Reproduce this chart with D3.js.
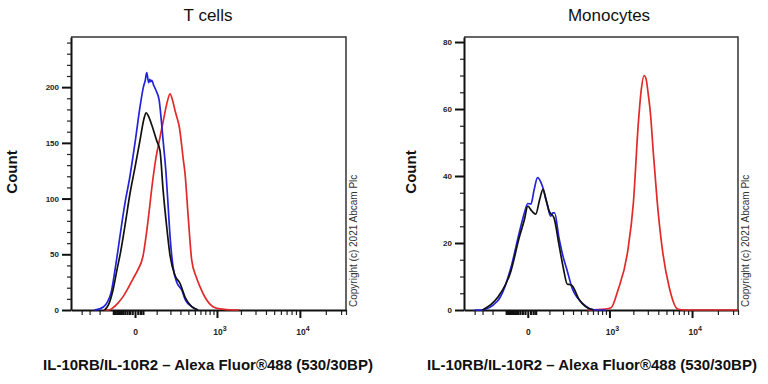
<!DOCTYPE html>
<html>
<head>
<meta charset="utf-8">
<script src="https://cdn.jsdelivr.net/npm/d3@7"></script>
<style>
body { margin: 0; background: #fff; }
text { font-family: "Liberation Sans", Arial, sans-serif; }
</style>
</head>
<body>
<svg id="chart" width="768" height="384"></svg>
<script>
// x axis (biexponential-like display, fluorescence units)
var xDomain = [-573, 34200];
var xMajorTicks = [0, 1000, 10000];
var xMajorLabels = [["0", ""], ["10", "3"], ["10", "4"]];
var xMinorTicks = [-400, -300, -200, 100, 200, 300, 400, 500, 600, 700, 800, 900,
	2000, 3000, 4000, 5000, 6000, 7000, 8000, 9000, 20000, 30000];
var xZeroTicks = [-100, -90, -80, -70, -60, -50, -40, -30, -20, -10, 10, 20, 30];

var xTitle = "IL-10RB/IL-10R2 \u2013 Alexa Fluor\u00ae488 (530/30BP)";
var copyright = "Copyright (c) 2021 Abcam  Plc";

// T cells panel
var tMajor = [0, 50, 100, 150, 200];
var tMinor = [10, 20, 30, 40, 60, 70, 80, 90, 110, 120, 130, 140, 160, 170, 180, 190, 210, 220, 230, 240];
var tBlue = [[-250, 0], [-200, 1], [-150, 5], [-110, 18], [-90, 36], [-75, 52], [-60, 70], [-40, 95],
	[-20, 118], [0, 150], [20, 185], [32, 200], [40, 206], [47, 213], [56, 204], [62, 207], [66, 205],
	[72, 206], [84, 201], [96, 197], [116, 188], [121, 182], [144, 150], [164, 123], [180, 95],
	[200, 62], [225, 38], [260, 25], [315, 18], [360, 9], [450, 3], [550, 0]];
var tBlack = [[-160, 0], [-130, 5], [-102, 18], [-79, 36], [-60, 52], [-39, 76], [-18, 105], [0, 128],
	[18, 152], [35, 172], [44, 177], [55, 174], [72, 166], [100, 152], [121, 143], [142, 108],
	[172, 72], [197, 49], [243, 31], [295, 24], [360, 11], [449, 3], [560, 0]];
var tRed = [[-160, 0], [-130, 0], [-102, 2], [-75, 6], [-48, 12], [-25, 20], [-7, 28], [10, 36],
	[30, 48], [53, 80], [77, 116], [95, 136], [121, 155], [144, 170], [170, 185], [197, 194],
	[220, 188], [243, 179], [265, 172], [288, 164], [334, 135], [355, 123], [400, 82], [449, 45],
	[520, 30], [591, 21], [700, 11], [888, 3], [1100, 1], [1600, 0], [1900, 0]];

// Monocytes panel
var mMajor = [0, 20, 40, 60, 80];
var mMinor = [5, 10, 15, 25, 30, 35, 45, 50, 55, 65, 70, 75];
var mBlue = [[-400, 0], [-319, 0], [-159, 2.7], [-73, 12.6], [-33, 23], [-12, 29], [0, 31.8], [11, 31.6],
	[24, 36], [38, 39.5], [61, 37], [85, 32], [108, 28], [122, 29], [134, 29], [166, 21.6], [200, 16],
	[240, 11.6], [290, 6.5], [352, 3.7], [450, 1.5], [554, 0.3], [700, 0], [900, 0]];
var mBlack = [[-300, 0], [-159, 3.7], [-73, 11.6], [-33, 21.6], [-12, 27], [0, 31], [15, 29.5],
	[30, 28.6], [48, 33], [64, 36], [80, 33], [98, 29.6], [130, 27.5], [166, 19.6], [200, 13],
	[240, 7.7], [265, 7.6], [292, 7.2], [373, 3.2], [470, 1], [611, 0]];
var mRed = [[500, 0], [888, 0.3], [1053, 0.7], [1278, 5.7], [1705, 17.6], [2003, 32], [2306, 56],
	[2507, 66], [2700, 70], [2856, 69], [3050, 64], [3217, 59], [3491, 47], [3897, 32], [4502, 17.6],
	[5404, 6.7], [6761, 0.3], [8320, 0], [34200, 0]];

var colors = { blue: "#2323d9", black: "#111111", red: "#e12a2a" };

var svg = d3.select("#chart");
svg.append("rect").attr("width", 768).attr("height", 384).attr("fill", "#fff");

function drawPanel(p) {
	var top = 37, bottom = 310;
	var x = d3.scaleSymlog().constant(129).domain(xDomain).range([p.left, p.right]);
	var y = d3.scaleLinear().domain([0, p.yMax]).range([bottom, top]);
	var g = svg.append("g");

	// frame top and right
	g.append("path")
		.attr("d", "M" + p.left + "," + top + "H" + p.right + "V" + bottom)
		.attr("fill", "none").attr("stroke", "#333").attr("stroke-width", 1.5);

	// y axis
	var yMinorAxis = g.append("g")
		.attr("transform", "translate(" + p.left + ",0)")
		.call(d3.axisLeft(y).tickValues(p.yMinor).tickSize(4).tickSizeOuter(0).tickFormat(""));
	yMinorAxis.select(".domain").remove();
	yMinorAxis.selectAll("line").attr("stroke", "#222").attr("stroke-width", 1.2);

	var yAxis = g.append("g")
		.attr("transform", "translate(" + p.left + ",0)")
		.call(d3.axisLeft(y).tickValues(p.yMajor).tickSize(9).tickSizeOuter(0).tickPadding(3));
	yAxis.select(".domain").attr("stroke", "#111").attr("stroke-width", 2);
	yAxis.selectAll("line").attr("stroke", "#111").attr("stroke-width", 2);
	yAxis.selectAll("text").attr("font-size", 8).attr("font-weight", "bold").attr("fill", "#222");

	// x axis
	var xMinorAxis = g.append("g")
		.attr("transform", "translate(0," + bottom + ")")
		.call(d3.axisBottom(x).tickValues(xMinorTicks.concat([xDomain[1]])).tickSize(5).tickSizeOuter(0).tickFormat(""));
	xMinorAxis.select(".domain").remove();
	xMinorAxis.selectAll("line").attr("stroke", "#222").attr("stroke-width", 1.2);

	var xZeroAxis = g.append("g")
		.attr("transform", "translate(0," + bottom + ")")
		.call(d3.axisBottom(x).tickValues(xZeroTicks).tickSize(5).tickSizeOuter(0).tickFormat(""));
	xZeroAxis.select(".domain").remove();
	xZeroAxis.selectAll("line").attr("stroke", "#111").attr("stroke-width", 2.2);

	var xAxis = g.append("g")
		.attr("transform", "translate(0," + bottom + ")")
		.call(d3.axisBottom(x).tickValues(xMajorTicks).tickSize(8).tickSizeOuter(0).tickPadding(11).tickFormat(""));
	xAxis.select(".domain").attr("stroke", "#111").attr("stroke-width", 2);
	xAxis.selectAll("line").attr("stroke", "#111").attr("stroke-width", 2);
	xAxis.selectAll(".tick").each(function(d, i) {
		var t = d3.select(this).select("text")
			.attr("font-size", 8.5).attr("font-weight", "bold").attr("fill", "#222");
		t.append("tspan").text(xMajorLabels[i][0]);
		if (xMajorLabels[i][1]) {
			t.attr("dx", "0.3em");
			t.append("tspan").attr("dy", "-0.6em").attr("font-size", 7).text(xMajorLabels[i][1]);
		}
	});

	// histograms
	var line = d3.line()
		.x(function(d) { return x(d[0]); })
		.y(function(d) { return y(d[1]); })
		.curve(d3.curveMonotoneX);

	p.series.forEach(function(s) {
		g.append("path")
			.datum(s.values)
			.attr("d", line)
			.attr("fill", "none")
			.attr("stroke", colors[s.color])
			.attr("stroke-width", 1.7)
			.attr("stroke-linejoin", "round");
	});

	// titles
	g.append("text")
		.attr("x", p.titleX).attr("y", 21)
		.attr("text-anchor", "middle")
		.attr("font-size", 17).attr("fill", "#111")
		.text(p.title);

	g.append("text")
		.attr("x", p.xTitleX).attr("y", 370)
		.attr("text-anchor", "middle")
		.attr("font-size", 15).attr("font-weight", "bold").attr("fill", "#111")
		.text(xTitle);

	g.append("text")
		.attr("transform", "translate(" + p.yTitleX + ",172) rotate(-90)")
		.attr("text-anchor", "middle")
		.attr("font-size", 15).attr("font-weight", "bold").attr("fill", "#111")
		.text("Count");

	g.append("text")
		.attr("transform", "translate(" + (p.right + 11) + ",307) rotate(-90)")
		.attr("font-size", 10).attr("fill", "#333")
		.text(copyright);
}

drawPanel({
	left: 71, right: 346, yMax: 245, yMajor: tMajor, yMinor: tMinor,
	title: "T cells", titleX: 208, xTitleX: 208, yTitleX: 17,
	series: [{ values: tRed, color: "red" }, { values: tBlue, color: "blue" }, { values: tBlack, color: "black" }]
});

drawPanel({
	left: 464, right: 738, yMax: 81.5, yMajor: mMajor, yMinor: mMinor,
	title: "Monocytes", titleX: 609, xTitleX: 592, yTitleX: 416,
	series: [{ values: mRed, color: "red" }, { values: mBlue, color: "blue" }, { values: mBlack, color: "black" }]
});
</script>
</body>
</html>
